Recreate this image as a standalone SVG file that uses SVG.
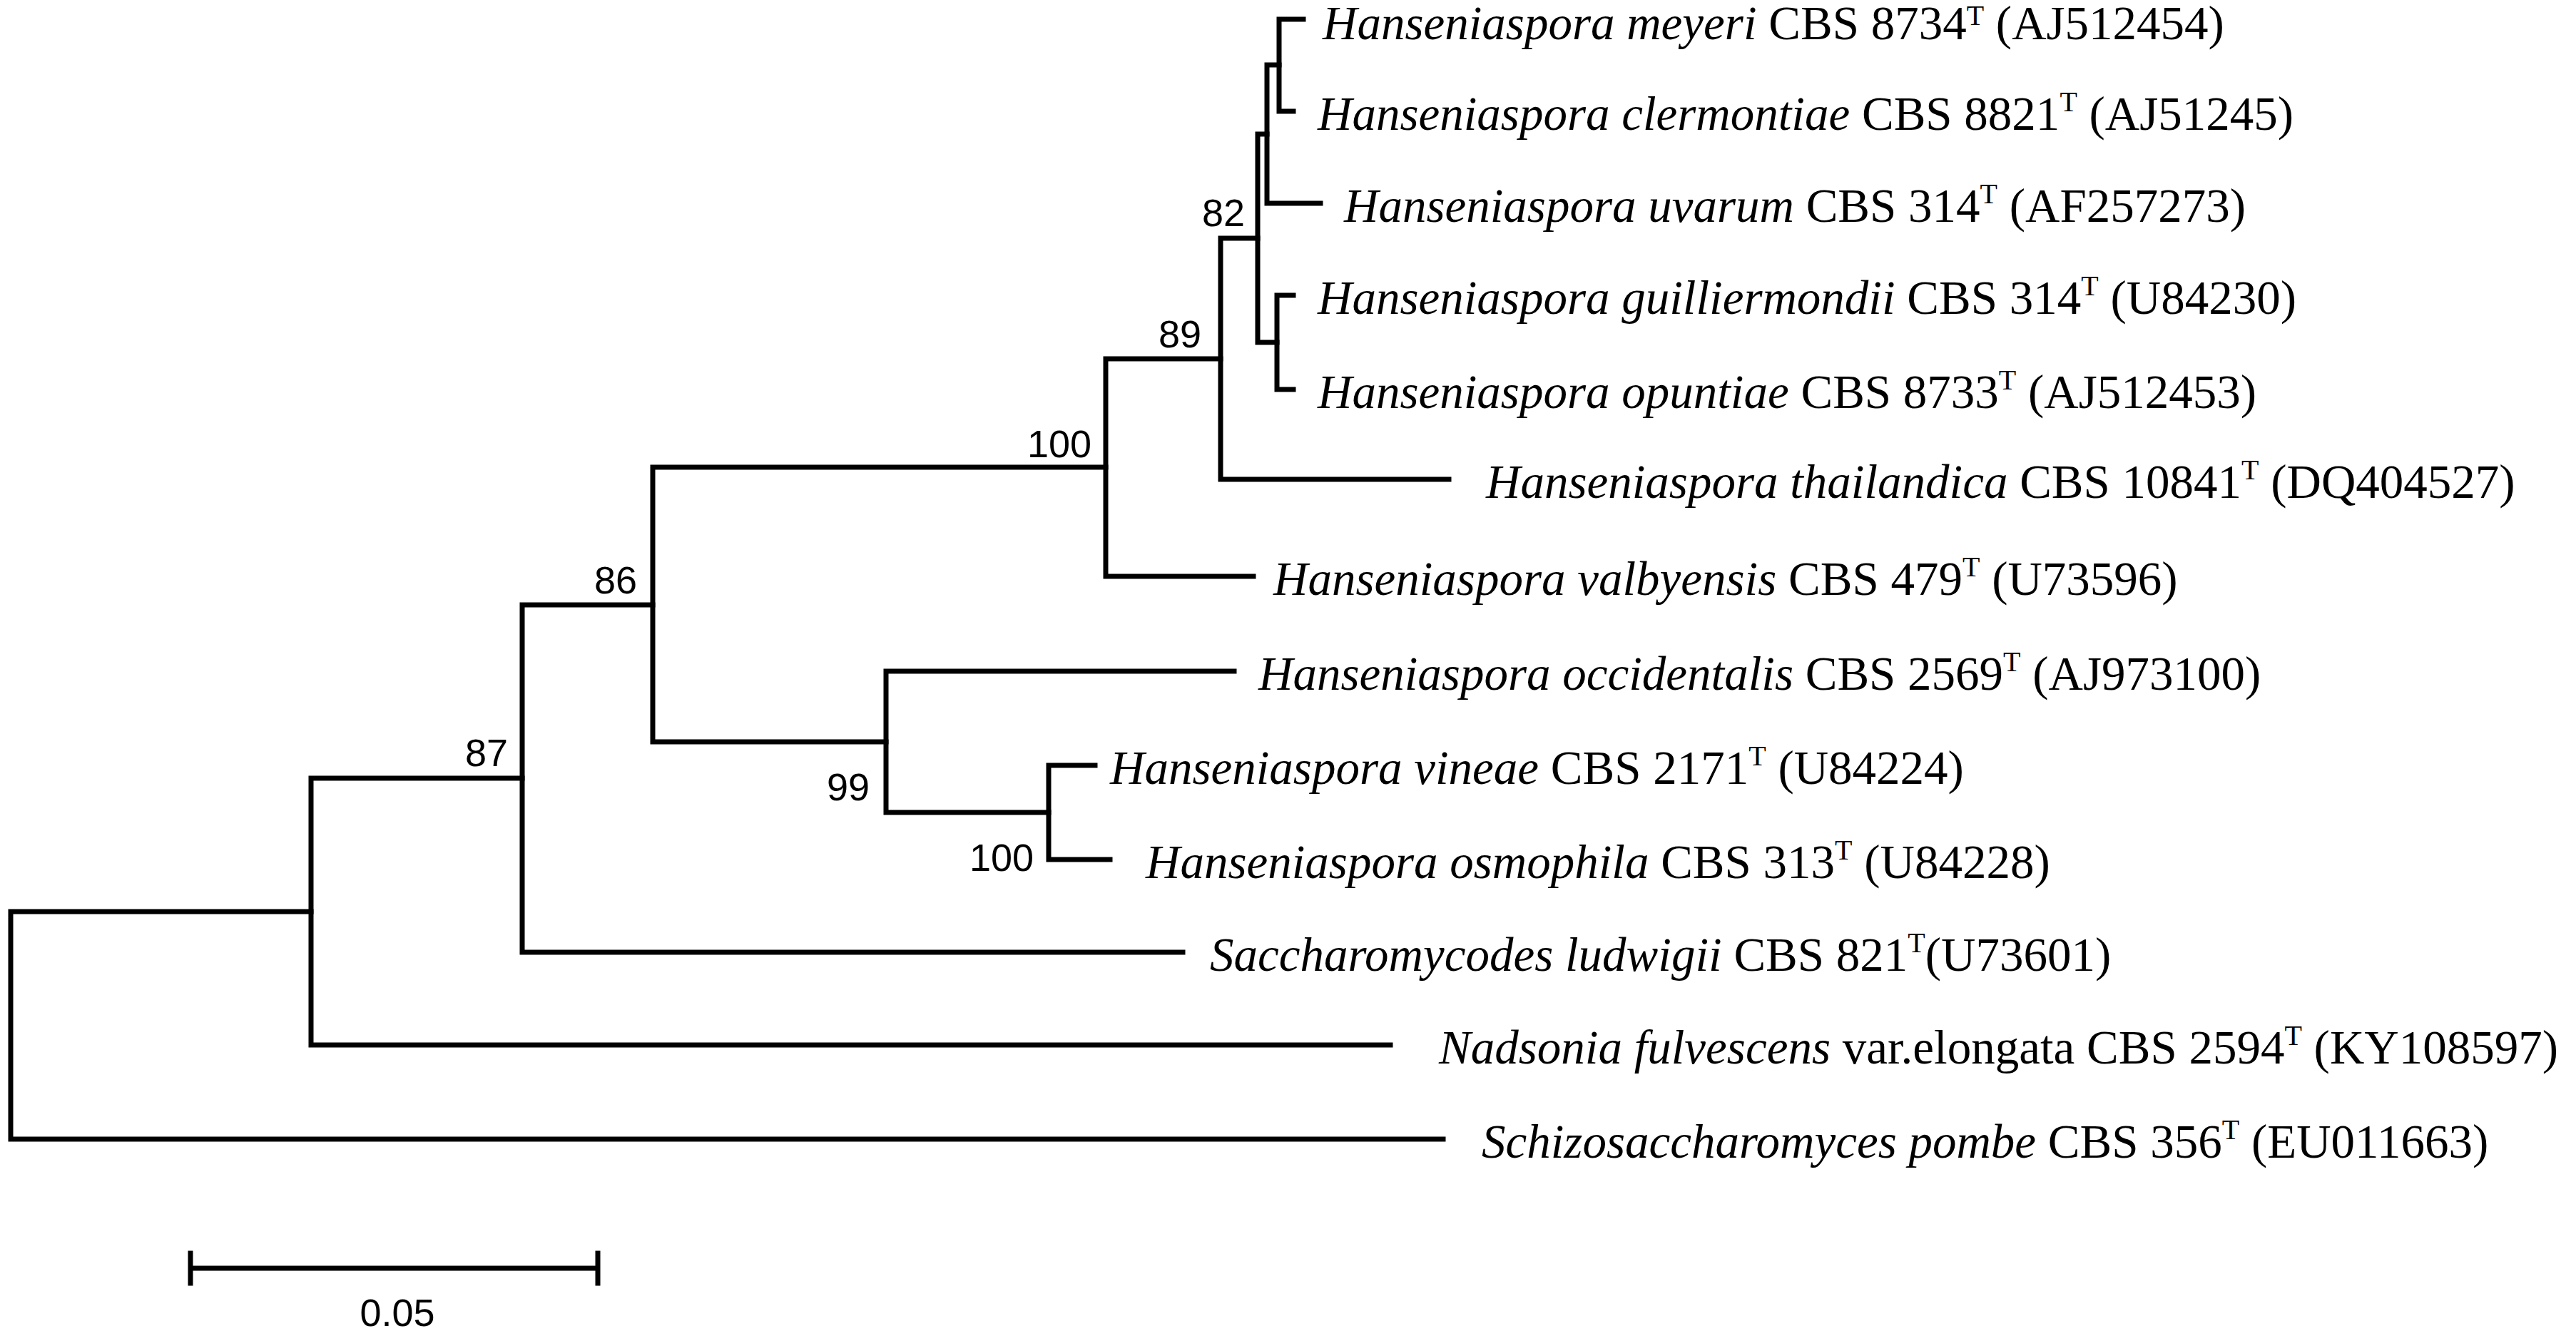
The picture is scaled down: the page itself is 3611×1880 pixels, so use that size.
<svg xmlns="http://www.w3.org/2000/svg" width="3611" height="1880" viewBox="0 0 3611 1880">
<style>
.e{fill:none;stroke:#000;stroke-width:7;stroke-linecap:square}
.t{font-family:"Liberation Serif",serif;font-size:67px;fill:#000}
.b{font-family:"Liberation Sans",Arial,sans-serif;font-size:54px;fill:#000}
.s{font-size:40px}
</style>
<rect width="3611" height="1880" fill="#fff"/>
<g id="connectors">
<path class="e" d="M1827,27H1793V156H1813"/>
<path class="e" d="M1793,91H1776V285H1851"/>
<path class="e" d="M1813,414H1790V546H1813"/>
<path class="e" d="M1776,188H1763V480H1790"/>
<path class="e" d="M1763,334H1711V672H2031"/>
<path class="e" d="M1711,503H1550V808H1757"/>
<path class="e" d="M1556,1205H1470V1073H1535"/>
<path class="e" d="M1470,1139H1242V941H1730"/>
<path class="e" d="M1550,655H915V1040H1242"/>
<path class="e" d="M915,848H732V1335H1658"/>
<path class="e" d="M732,1091H436V1465H1949"/>
<path class="e" d="M436,1278H15V1597H2023"/>
<path class="e" d="M267,1778H838M267,1757V1799M838,1757V1799"/>
</g>
<g id="bootstrap" class="b" text-anchor="end">
<text x="1745" y="317">82</text>
<text x="1684" y="487">89</text>
<text x="1530" y="641">100</text>
<text x="893" y="832">86</text>
<text x="712" y="1074">87</text>
<text x="1219" y="1122">99</text>
<text x="1449" y="1221">100</text>
</g>
<g id="scale"><text class="b" x="557" y="1859" text-anchor="middle">0.05</text></g>
<g id="n-meyeri"><text class="t" x="1854" y="55"><tspan font-style="italic">Hanseniaspora meyeri</tspan> CBS 8734<tspan class="s" dy="-20">T</tspan><tspan dy="20"> (AJ512454)</tspan></text></g>
<g id="n-clermontiae"><text class="t" x="1847" y="182"><tspan font-style="italic">Hanseniaspora clermontiae</tspan> CBS 8821<tspan class="s" dy="-26">T</tspan><tspan dy="26"> (AJ51245)</tspan></text></g>
<g id="n-uvarum"><text class="t" x="1884" y="311"><tspan font-style="italic">Hanseniaspora uvarum</tspan> CBS 314<tspan class="s" dy="-26">T</tspan><tspan dy="26"> (AF257273)</tspan></text></g>
<g id="n-guilliermondii"><text class="t" x="1847" y="440"><tspan font-style="italic">Hanseniaspora guilliermondii</tspan> CBS 314<tspan class="s" dy="-26">T</tspan><tspan dy="26"> (U84230)</tspan></text></g>
<g id="n-opuntiae"><text class="t" x="1847" y="572"><tspan font-style="italic">Hanseniaspora opuntiae</tspan> CBS 8733<tspan class="s" dy="-26">T</tspan><tspan dy="26"> (AJ512453)</tspan></text></g>
<g id="n-thailandica"><text class="t" x="2083" y="698"><tspan font-style="italic">Hanseniaspora thailandica</tspan> CBS 10841<tspan class="s" dy="-26">T</tspan><tspan dy="26"> (DQ404527)</tspan></text></g>
<g id="n-valbyensis"><text class="t" x="1785" y="834"><tspan font-style="italic">Hanseniaspora valbyensis</tspan> CBS 479<tspan class="s" dy="-26">T</tspan><tspan dy="26"> (U73596)</tspan></text></g>
<g id="n-occidentalis"><text class="t" x="1764" y="967"><tspan font-style="italic">Hanseniaspora occidentalis</tspan> CBS 2569<tspan class="s" dy="-26">T</tspan><tspan dy="26"> (AJ973100)</tspan></text></g>
<g id="n-vineae"><text class="t" x="1556" y="1099"><tspan font-style="italic">Hanseniaspora vineae</tspan> CBS 2171<tspan class="s" dy="-26">T</tspan><tspan dy="26"> (U84224)</tspan></text></g>
<g id="n-osmophila"><text class="t" x="1606" y="1231"><tspan font-style="italic">Hanseniaspora osmophila</tspan> CBS 313<tspan class="s" dy="-26">T</tspan><tspan dy="26"> (U84228)</tspan></text></g>
<g id="n-ludwigii"><text class="t" x="1696" y="1361"><tspan font-style="italic">Saccharomycodes ludwigii</tspan> CBS 821<tspan class="s" dy="-26">T</tspan><tspan dy="26">(U73601)</tspan></text></g>
<g id="n-nadsonia"><text class="t" x="2017" y="1491"><tspan font-style="italic">Nadsonia fulvescens</tspan> var.elongata CBS 2594<tspan class="s" dy="-26">T</tspan><tspan dy="26"> (KY108597)</tspan></text></g>
<g id="n-pombe"><text class="t" x="2077" y="1623"><tspan font-style="italic">Schizosaccharomyces pombe</tspan> CBS 356<tspan class="s" dy="-26">T</tspan><tspan dy="26"> (EU011663)</tspan></text></g>
</svg>
